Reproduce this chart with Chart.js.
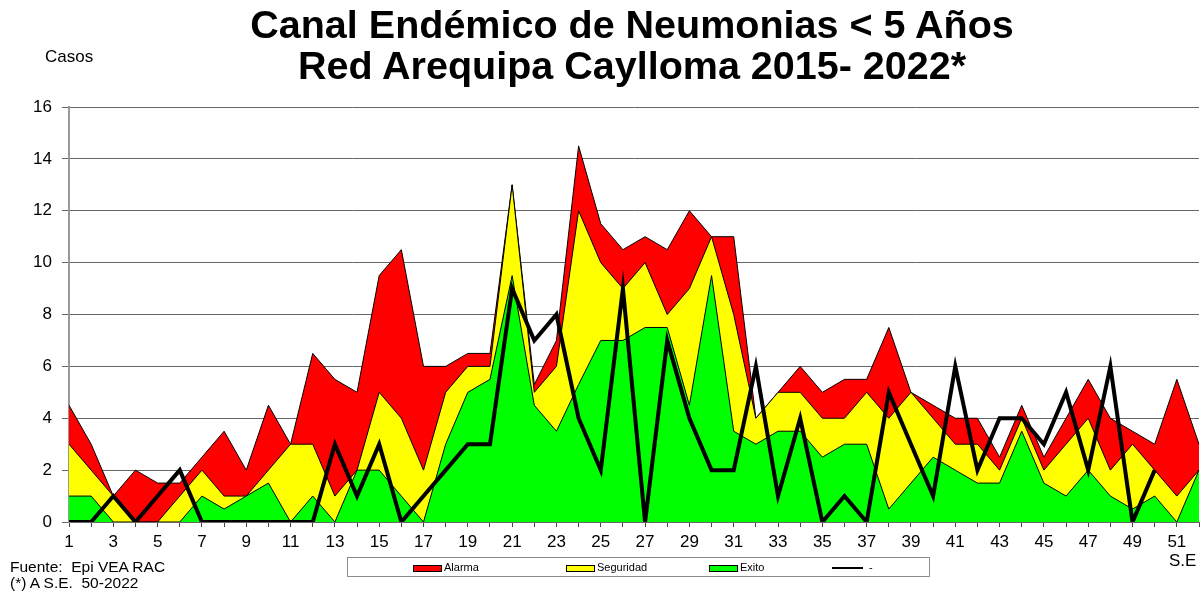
<!DOCTYPE html>
<html><head><meta charset="utf-8">
<script src="https://cdn.jsdelivr.net/npm/chart.js@4.4.1/dist/chart.umd.min.js"></script>
<style>
html,body{margin:0;padding:0;background:#fff;}
#wrap{position:relative;width:1204px;height:592px;overflow:hidden;font-family:"Liberation Sans",Arial,sans-serif;}
canvas{position:absolute;left:0;top:0;}
.t{position:absolute;white-space:nowrap;color:#000;}
.title{font-weight:bold;font-size:39.5px;line-height:40px;left:632px;transform:translateX(-50%);}
#legend{position:absolute;left:347px;top:557px;width:583px;height:20px;border:1px solid #8c8c8c;box-sizing:border-box;background:#fff;}
.sw{position:absolute;top:7px;width:27px;height:5px;border:1px solid #000;}
.lt{position:absolute;top:3px;font-size:11px;line-height:13px;}
</style></head><body>
<div id="wrap">
<canvas id="c" width="1204" height="592"></canvas>
<div class="t title" style="top:4px;">Canal Endémico de Neumonias &lt; 5 Años</div>
<div class="t title" style="top:45px;">Red Arequipa Caylloma 2015- 2022*</div>
<div class="t" style="left:45px;top:48px;font-size:17px;line-height:17px;">Casos</div>
<div class="t" style="left:10px;top:559px;font-size:15.5px;line-height:16px;">Fuente:&nbsp; Epi VEA RAC</div>
<div class="t" style="left:10px;top:575px;font-size:15.5px;line-height:16px;">(*) A S.E.&nbsp; 50-2022</div>
<div class="t" style="left:1169px;top:552px;font-size:17px;line-height:17px;">S.E</div>
<div id="legend">
  <div class="sw" style="left:65px;background:#ff0000;"></div><div class="lt" style="left:96px;">Alarma</div>
  <div class="sw" style="left:218px;background:#ffff00;"></div><div class="lt" style="left:249px;">Seguridad</div>
  <div class="sw" style="left:361px;background:#00ff00;"></div><div class="lt" style="left:392px;">Exito</div>
  <div style="position:absolute;left:484px;top:9px;width:31px;height:2px;background:#000;"></div><div class="lt" style="left:521px;">-</div>
</div>
</div>
<script>
const weeks = ["1","2","3","4","5","6","7","8","9","10","11","12","13","14","15","16","17","18","19","20","21","22","23","24","25","26","27","28","29","30","31","32","33","34","35","36","37","38","39","40","41","42","43","44","45","46","47","48","49","50","51","52"];
const alarma = [4.5,3,1,2,1.5,1.5,2.5,3.5,2,4.5,3,6.5,5.5,5,9.5,10.5,6,6,6.5,6.5,13,5.3,7,14.5,11.5,10.5,11,10.5,12,11,11,4,5,6,5,5.5,5.5,7.5,5,4.5,4,4,2.5,4.5,2.5,4,5.5,4,3.5,3,5.5,3];
const seguridad = [3,2,1,0,0,1,2,1,1,2,3,3,1,2,5,4,2,5,6,6,13,5,6,12,10,9,10,8,9,11,8,4,5,5,4,4,5,4,5,4,3,3,2,4,2,3,4,2,3,2,1,2];
const exito = [1,1,0,0,0,0,1,0.5,1,1.5,0,1,0,2,2,1,0,3,5,5.5,9.5,4.5,3.5,5.3,7,7,7.5,7.5,4.5,9.5,3.5,3,3.5,3.5,2.5,3,3,0.5,1.5,2.5,2,1.5,1.5,3.5,1.5,1,2,1,0.5,1,0,2];
const casos2022 = [0,0,1,0,1,2,0,0,0,0,0,0,3,1,3,0,1,2,3,3,9,7,8,4,2,9,0,7,4,2,2,6,1,4,0,1,0,5,3,1,6,2,4,4,3,5,2,6,0,2];
const yTicks = [0,2,4,6,8,10,12,14,16];

const area = (label, data, color, order) => ({
  label, data, order, fill: 'origin', backgroundColor: color, borderColor: '#000',
  borderWidth: 1, pointRadius: 0, tension: 0, borderJoinStyle: 'miter'
});

new Chart(document.getElementById('c'), {
  type: 'line',
  data: {
    labels: weeks,
    datasets: [
      area('Alarma', alarma, '#ff0000', 4),
      area('Seguridad', seguridad, '#ffff00', 3),
      area('Exito', exito, '#00ff00', 2),
      { label: '-', data: casos2022, order: 1, fill: false, borderColor: '#000', borderWidth: 4,
        pointRadius: 0, tension: 0, borderJoinStyle: 'miter' }
    ]
  },
  options: {
    responsive: false,
    animation: false,
    devicePixelRatio: 1,
    layout: { padding: { left: 0, top: 107, right: 3, bottom: 0 } },
    plugins: { legend: { display: false }, tooltip: { enabled: false }, title: { display: false } },
    scales: {
      x: {
        offset: false,
        grid: { drawOnChartArea: false, drawTicks: true, tickLength: 5, color: '#444' },
        border: { display: true, color: '#666', width: 1 },
        ticks: {
          autoSkip: false, maxRotation: 0, minRotation: 0, padding: 5,
          color: '#000', font: { family: '"Liberation Sans", Arial, sans-serif', size: 17 },
          callback: function (v, i) { return i % 2 === 0 ? this.getLabelForValue(v) : ''; }
        },
        afterFit: s => { s.height = 70; }
      },
      y: {
        min: 0, max: 16,
        afterBuildTicks: s => { s.ticks = yTicks.map(v => ({ value: v })); },
        grid: { color: '#666', lineWidth: 1, tickLength: 7, drawTicks: true },
        border: { display: true, color: '#999', width: 2 },
        ticks: { padding: 10, color: '#000', font: { family: '"Liberation Sans", Arial, sans-serif', size: 17 } },
        afterFit: s => { s.width = 69; }
      }
    }
  }
});
</script>
</body></html>
